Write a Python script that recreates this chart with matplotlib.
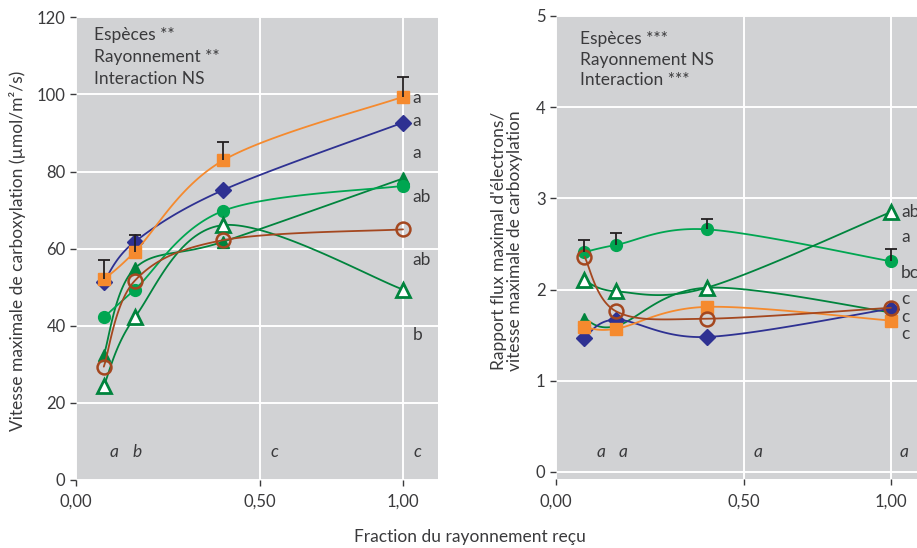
import numpy as np
import matplotlib
matplotlib.use("Agg")
import matplotlib.pyplot as plt

plt.rcParams['font.family'] = ['Lato', 'DejaVu Sans']

# ---------------- data ----------------
fractions = [0.085, 0.18, 0.45, 1.0]          # radiation fraction received
xtick_pos = [0.0, 0.562, 1.0]
xtick_labels = ["0,00", "0,50", "1,00"]

# Left panel: Vcmax (µmol/m²/s)
vc_orange = [52.0, 59.2, 82.9, 99.4]
vc_blue = [51.4, 61.8, 75.2, 92.7]
vc_green = [42.2, 49.4, 69.8, 76.3]
vc_filltri = [32.4, 54.9, 61.8, 78.2]
vc_brown = [29.4, 51.7, 62.2, 65.0]
vc_opentri = [24.4, 42.2, 66.1, 49.4]
vc_err_top = [57.0, 63.5, 87.7, 104.4]        # error bars on orange series
vc_letters = ["a", "a", "a", "ab", "ab", "b"]
vc_letter_y = [99.1, 93.1, 84.7, 73.4, 57.0, 37.6]
vc_level_letters = ["a", "b", "c", "c"]
vc_level_x = [0.116, 0.186, 0.608, 1.045]
vc_stats = ["Espèces **", "Rayonnement **", "Interaction NS"]
vc_yticks = [0, 20, 40, 60, 80, 100, 120]

# Right panel: Jmax / Vcmax ratio
r_orange = [1.59, 1.57, 1.81, 1.66]
r_blue = [1.47, 1.67, 1.48, 1.79]
r_green = [2.41, 2.49, 2.66, 2.31]
r_filltri = [1.68, 1.60, 2.02, 1.75]
r_brown = [2.36, 1.76, 1.68, 1.80]
r_opentri = [2.10, 1.98, 2.02, 2.85]
r_err_top = [2.54, 2.62, 2.77, 2.44]          # error bars on green series
r_letters = ["ab", "a", "bc", "c", "c", "c"]
r_letter_y = [2.85, 2.58, 2.18, 1.90, 1.70, 1.51]
r_level_letters = ["a", "a", "a", "a"]
r_level_x = [0.133, 0.199, 0.604, 1.039]
r_stats = ["Espèces ***", "Rayonnement NS", "Interaction ***"]
r_yticks = [0, 1, 2, 3, 4, 5]

# ---------------- style ----------------
BG = "#D1D2D4"
TXT = "#3A3A3C"
C_ORANGE = "#F58A2E"
C_BLUE = "#2E3192"
C_GREEN = "#00A651"
C_DGREEN = "#00843D"
C_BROWN = "#A4471F"
C_ERR = "#231F20"

W, H = 917, 548
fig = plt.figure(figsize=(W / 100, H / 100), dpi=100)


def px_axes(x0, y_top, x1, y_bot):
    return fig.add_axes([x0 / W, 1 - y_bot / H, (x1 - x0) / W, (y_bot - y_top) / H])


ax1 = px_axes(76, 17.3, 438, 480)
ax2 = px_axes(556, 16, 917, 479.3)
ax1.set_xlim(0, 1.107)
ax1.set_ylim(0, 120)
ax2.set_xlim(0, 1.078)
ax2.set_ylim(-0.081, 5.0)


def smooth(ax, x, y, n=40):
    pts = ax.transData.transform(np.column_stack([x, y]))
    P = np.vstack([pts[0], pts, pts[-1]])
    out = []
    for i in range(1, len(P) - 2):
        p0, p1, p2, p3 = P[i - 1], P[i], P[i + 1], P[i + 2]
        c1 = p1 + (p2 - p0) / 6
        c2 = p2 - (p3 - p1) / 6
        t = np.linspace(0, 1, n)[:, None]
        seg = (1 - t) ** 3 * p1 + 3 * (1 - t) ** 2 * t * c1 + 3 * (1 - t) * t ** 2 * c2 + t ** 3 * p2
        out.append(seg)
    d = ax.transData.inverted().transform(np.vstack(out))
    return d[:, 0], d[:, 1]


def style_axes(ax, yticks):
    ax.set_facecolor(BG)
    for s in ax.spines.values():
        s.set_visible(False)
    ax.set_yticks(yticks)
    ax.set_xticks(xtick_pos)
    ax.set_xticklabels(xtick_labels)
    ax.grid(True, color="white", linewidth=1.4)
    ax.set_axisbelow(True)
    ax.tick_params(axis="both", direction="out", length=4, width=1, color=TXT,
                   labelcolor=TXT, labelsize=12)
    ax.tick_params(axis="x", pad=6)


style_axes(ax1, vc_yticks)
style_axes(ax2, r_yticks)


def draw_series(ax, y, color, marker, ms, face, mew, z):
    xs, ys = smooth(ax, fractions, y)
    ax.plot(xs, ys, color=color, lw=1.3, zorder=z, solid_capstyle="round")
    ax.plot(fractions, y, linestyle="none", marker=marker, markersize=ms,
            markerfacecolor=face, markeredgecolor=color, markeredgewidth=mew,
            zorder=z + 0.5)


def draw_panel(ax, orange, blue, green, filltri, brown, opentri):
    draw_series(ax, filltri, C_DGREEN, "^", 9, C_DGREEN, 1.0, 3)
    draw_series(ax, green, C_GREEN, "o", 8.5, C_GREEN, 1.0, 4)
    draw_series(ax, blue, C_BLUE, "D", 8.5, C_BLUE, 1.0, 5)
    draw_series(ax, orange, C_ORANGE, "s", 8.5, C_ORANGE, 1.0, 6)
    draw_series(ax, opentri, C_DGREEN, "^", 10, "white", 2.0, 7)
    draw_series(ax, brown, C_BROWN, "o", 10, "none", 1.8, 8)


draw_panel(ax1, vc_orange, vc_blue, vc_green, vc_filltri, vc_brown, vc_opentri)
draw_panel(ax2, r_orange, r_blue, r_green, r_filltri, r_brown, r_opentri)

# error bars (upper only)
for ax, base, top in [(ax1, vc_orange, vc_err_top), (ax2, r_green, r_err_top)]:
    ax.vlines(fractions, base, top, color=C_ERR, lw=1.3, zorder=10)
    ax.plot(fractions, top, linestyle="none", marker="_", markersize=9,
            markeredgewidth=1.3, color=C_ERR, zorder=10)

# significance letters at full light
for ax, letters, ly in [(ax1, vc_letters, vc_letter_y), (ax2, r_letters, r_letter_y)]:
    for lt, yy in zip(letters, ly):
        ax.text(1.03, yy, lt, ha="left", va="center", fontsize=12.5, color=TXT,
                zorder=12, clip_on=False)

# radiation-level letters (italic)
ax1_ly = 7.3
ax2_ly = 0.22
for lt, xx in zip(vc_level_letters, vc_level_x):
    ax1.text(xx, ax1_ly, lt, ha="center", va="center", fontsize=12.5,
             style="italic", color=TXT)
for lt, xx in zip(r_level_letters, r_level_x):
    ax2.text(xx, ax2_ly, lt, ha="center", va="center", fontsize=12.5,
             style="italic", color=TXT)

# statistics text
for ax, lines, x0, ys in [(ax1, vc_stats, 0.05, [0.961, 0.914, 0.866]),
                          (ax2, r_stats, 0.066, [0.950, 0.905, 0.862])]:
    for ln, yy in zip(lines, ys):
        ax.text(x0, yy, ln, transform=ax.transAxes, ha="left", va="center",
                fontsize=12.5, color=TXT)

# axis labels
fig.text(18 / W, 1 - 251 / H, "Vitesse maximale de carboxylation (µmol/m²/s)",
         rotation=90, ha="center", va="center", fontsize=12.5, color=TXT)
fig.text(507 / W, 1 - 241 / H,
         "Rapport flux maximal d'électrons/\nvitesse maximale de carboxylation",
         rotation=90, ha="center", va="center", fontsize=12.5, color=TXT,
         multialignment="center", linespacing=1.05)
fig.text(470 / W, 1 - 537 / H, "Fraction du rayonnement reçu",
         ha="center", va="center", fontsize=12.5, color=TXT)

fig.savefig("out.png", dpi=100, facecolor="white")
